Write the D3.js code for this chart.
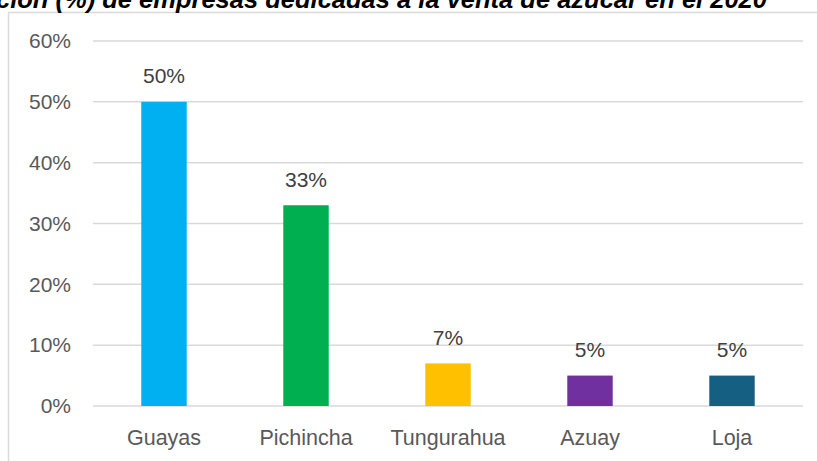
<!DOCTYPE html>
<html lang="es">
<head>
  <meta charset="utf-8">
  <title>Empresas de azúcar 2020</title>
  <script src="https://d3js.org/d3.v7.min.js"></script>
  <style>
  body { margin: 0; background: #fff; }
  text { font-family: "Liberation Sans", Arial, sans-serif; }
  </style>
</head>
<body>
<script>
// data
var provincias = ["Guayas", "Pichincha", "Tungurahua", "Azuay", "Loja"];
var porcentajes = [0.50, 0.33, 0.07, 0.05, 0.05];
var colores = ["#00b0f0", "#00b050", "#ffc000", "#7030a0", "#156082"];
var yTicks = [0, 0.1, 0.2, 0.3, 0.4, 0.5, 0.6];
var titulo = "Distribución (%) de empresas dedicadas a la venta de azúcar en el 2020";

var w = 817, h = 461;

var svg = d3.select("body").append("svg")
    .attr("width", w)
    .attr("height", h);

// chart area border (top and left visible)
svg.append("rect")
    .attr("x", 8.5).attr("y", 12.5)
    .attr("width", 900).attr("height", 600)
    .attr("fill", "none")
    .attr("stroke", "#d9d9d9")
    .attr("stroke-width", 1.5);

// title, cut by the top of the picture
svg.append("text")
    .attr("x", 767).attr("y", 7.5)
    .attr("text-anchor", "end")
    .attr("font-size", 25.5)
    .attr("font-style", "italic")
    .attr("font-weight", "bold")
    .attr("fill", "#000")
    .text(titulo);

var x = d3.scaleBand()
    .domain(provincias)
    .range([93, 803])
    .paddingInner(0.68)
    .paddingOuter(0.34);

var y = d3.scaleLinear()
    .domain([0, 0.6])
    .range([406, 41]);

// gridlines
svg.append("g")
    .selectAll("line")
    .data(yTicks)
    .enter().append("line")
    .attr("x1", 93).attr("x2", 803)
    .attr("y1", function(d) { return y(d); })
    .attr("y2", function(d) { return y(d); })
    .attr("stroke", "#d9d9d9")
    .attr("stroke-width", 1.5);

// y-axis labels
var yAxis = svg.append("g")
    .attr("transform", "translate(71,0)")
    .call(d3.axisLeft(y).tickValues(yTicks).tickFormat(d3.format(".0%")).tickSize(0).tickPadding(0));
yAxis.select(".domain").remove();
yAxis.selectAll("text")
    .attr("font-size", 21)
    .attr("fill", "#595959")
    .attr("font-family", "'Liberation Sans', Arial, sans-serif");

// bars
svg.append("g")
    .selectAll("rect")
    .data(porcentajes)
    .enter().append("rect")
    .attr("x", function(d, i) { return x(provincias[i]); })
    .attr("y", function(d) { return y(d); })
    .attr("width", x.bandwidth())
    .attr("height", function(d) { return y(0) - y(d); })
    .attr("fill", function(d, i) { return colores[i]; });

// value labels
svg.append("g")
    .selectAll("text")
    .data(porcentajes)
    .enter().append("text")
    .attr("x", function(d, i) { return x(provincias[i]) + x.bandwidth() / 2; })
    .attr("y", function(d) { return y(d) - 18.5; })
    .attr("text-anchor", "middle")
    .attr("font-size", 21)
    .attr("fill", "#404040")
    .text(function(d) { return d3.format(".0%")(d); });

// x-axis labels
var xAxis = svg.append("g")
    .attr("transform", "translate(0,406)")
    .call(d3.axisBottom(x).tickSize(0).tickPadding(0));
xAxis.select(".domain").remove();
xAxis.selectAll("text")
    .attr("dy", 0)
    .attr("y", 39)
    .attr("font-size", 21.5)
    .attr("fill", "#595959")
    .attr("font-family", "'Liberation Sans', Arial, sans-serif");
</script>
</body>
</html>
